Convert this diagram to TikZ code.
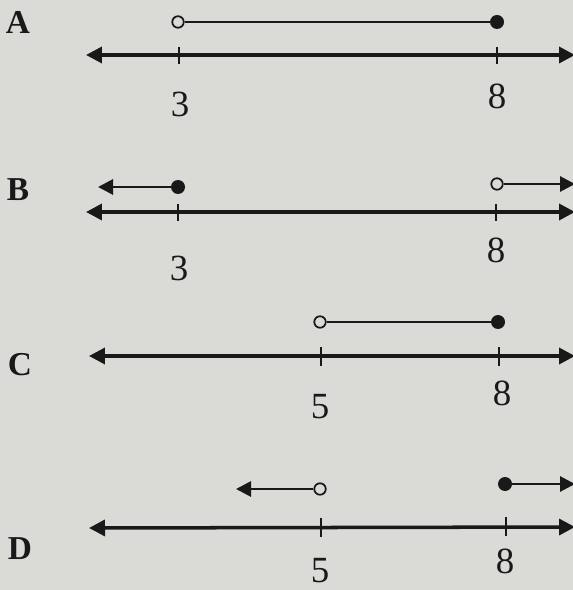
\documentclass[tikz,border=0pt]{standalone}
\usepackage{fontspec}
\setmainfont{Liberation Serif}
\usepackage{tikz}
\usetikzlibrary{arrows.meta, positioning}
\definecolor{papergray}{RGB}{218,218,215}
\definecolor{inkblack}{RGB}{25,25,25}

\begin{document}
\begin{tikzpicture}[
    x=0.02cm, y=-0.02cm,
    axis/.style={{Triangle[length=0.32cm, width=0.32cm]}-{Triangle[length=0.32cm, width=0.32cm]}, line width=2pt, draw=inkblack},
    ray/.style={-{Triangle[length=0.3cm, width=0.3cm]}, line width=1.6pt, draw=inkblack},
    seg/.style={line width=1.3pt, draw=inkblack},
    tick/.style={line width=1.1pt, draw=inkblack},
    opendot/.style={circle, draw=inkblack, line width=1pt, fill=papergray, inner sep=0pt, minimum width=0.19cm, minimum height=0.23cm},
    closeddot/.style={circle, fill=inkblack, inner sep=0pt, minimum size=0.28cm},
    letter/.style={font=\fontsize{19}{19}\selectfont\bfseries, text=inkblack},
    num/.style={font=\fontsize{21}{21}\selectfont, text=inkblack}
]

% paper
\fill[papergray] (0,0) rectangle (573,590);
\useasboundingbox (0,0) rectangle (573,590);

% A
\node[letter] (labA) at (18,22) {A};
\node[opendot] (a3) at (178,22) {};
\node[closeddot] (a8) at (497,22) {};
\draw[seg] (a3) -- (a8);
\coordinate (aL) at (86,55);
\coordinate (aR) at (575,55);
\draw[axis] (aL) -- (aR);
\draw[tick] (179,47) -- (179,64);
\draw[tick] (497,47) -- (497,64);
\node[num] (n3a) at (180,104) {3};
\node[num] (n8a) at (497,96) {8};

% B
\node[letter] (labB) at (18,190) {B};
\node[closeddot] (b3) at (178,187) {};
\coordinate (bLtip) at (98,187);
\draw[ray] (b3) -- (bLtip);
\node[opendot] (b8) at (497,184) {};
\coordinate (bRtip) at (575,184);
\draw[ray] (b8) -- (bRtip);
\coordinate (bL) at (86,212);
\coordinate (bR) at (575,212);
\draw[axis] (bL) -- (bR);
\draw[tick] (178,204) -- (178,221);
\draw[tick] (496,204) -- (496,221);
\node[num] (n3b) at (179,268) {3};
\node[num] (n8b) at (496,250) {8};

% C
\node[letter] (labC) at (20,365) {C};
\node[opendot] (c5) at (320,322) {};
\node[closeddot] (c8) at (498,322) {};
\draw[seg] (c5) -- (c8);
\coordinate (cL) at (89,356);
\coordinate (cR) at (575,356);
\draw[axis] (cL) -- (cR);
\draw[tick] (321,347) -- (321,366);
\draw[tick] (499,347) -- (499,366);
\node[num] (n5c) at (320,407) {5};
\node[num] (n8c) at (502,393) {8};

% D
\node[letter] (labD) at (20,549) {D};
\node[opendot] (d5) at (320,489) {};
\coordinate (dLtip) at (236,489);
\draw[ray] (d5) -- (dLtip);
\node[closeddot] (d8) at (505,484) {};
\coordinate (dRtip) at (575,484);
\draw[ray] (d8) -- (dRtip);
\coordinate (dL) at (89,528);
\coordinate (dR) at (575,527);
\draw[axis] (dL) -- (dR);
\draw[tick] (321,518) -- (321,537);
\draw[tick] (506,517) -- (506,536);
\node[num] (n5d) at (320,571) {5};
\node[num] (n8d) at (505,561) {8};

\end{tikzpicture}
\end{document}
